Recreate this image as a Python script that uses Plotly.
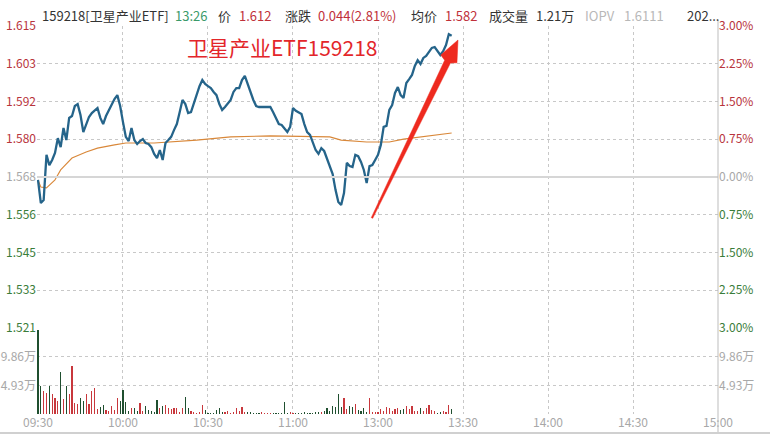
import plotly.graph_objects as go

# ---------------- data ----------------
prev_close = 1.568

def minute_range(start, end):
    out = []
    h, m = start
    while (h, m) <= end:
        out.append(f"{h:02d}:{m:02d}")
        m += 1
        if m == 60:
            h += 1
            m = 0
    return out

all_times = minute_range((9, 30), (11, 30)) + minute_range((13, 1), (15, 0))

price = [
    1.5671, 1.5599, 1.5608, 1.5749, 1.5717, 1.5733, 1.5755, 1.5801, 1.5773, 1.5833,
    1.5795, 1.5864, 1.5870, 1.5901, 1.5907, 1.5873, 1.5820, 1.5845, 1.5867, 1.5879,
    1.5886, 1.5895, 1.5864, 1.5845, 1.5870, 1.5889, 1.5907, 1.5923, 1.5935, 1.5901,
    1.5851, 1.5805, 1.5792, 1.5833, 1.5795, 1.5783, 1.5792, 1.5798, 1.5786, 1.5783,
    1.5773, 1.5752, 1.5739, 1.5764, 1.5733, 1.5786, 1.5795, 1.5805, 1.5826, 1.5845,
    1.5882, 1.5920, 1.5907, 1.5879, 1.5882, 1.5911, 1.5942, 1.5963, 1.5982, 1.5970,
    1.5963, 1.5957, 1.5945, 1.5935, 1.5907, 1.5889, 1.5898, 1.5911, 1.5920, 1.5945,
    1.5957, 1.5957, 1.5982, 1.5995, 1.5970, 1.5939, 1.5920, 1.5901, 1.5898, 1.5898,
    1.5898, 1.5898, 1.5898, 1.5882, 1.5861, 1.5845, 1.5842, 1.5830, 1.5820, 1.5836,
    1.5895, 1.5886, 1.5882, 1.5876, 1.5845, 1.5820, 1.5811, 1.5789, 1.5764, 1.5752,
    1.5770, 1.5761, 1.5739, 1.5717, 1.5689, 1.5640, 1.5602, 1.5593, 1.5630, 1.5724,
    1.5714, 1.5711, 1.5749, 1.5745, 1.5727, 1.5702, 1.5661, 1.5714, 1.5717, 1.5733,
    1.5749, 1.5780, 1.5836, 1.5839, 1.5889, 1.5904, 1.5942, 1.5960, 1.5935, 1.5926,
    1.5973, 1.5985, 1.5998, 1.6026, 1.6044, 1.6032, 1.6051, 1.6057, 1.6069, 1.6082,
    1.6085, 1.6072, 1.6060, 1.6072, 1.6091, 1.6125, 1.6120,
]

# volume per minute, in 万
volume = [
    14.5, 4.8, 3.9, 3.6, 4.9, 3.4, 2.7, 2.2, 7.3, 2.5,
    4.8, 3.4, 8.3, 1.9, 1.7, 2.7, 2.2, 3.4, 1.7, 3.9,
    4.4, 0.8, 1.2, 1.5, 0.7, 0.5, 1.4, 0.7, 2.7, 2.2,
    4.1, 2.0, 0.5, 1.0, 1.0, 0.6, 1.9, 0.5, 1.4, 0.7,
    0.5, 0.4, 2.4, 1.0, 1.4, 1.5, 1.0, 0.8, 1.0, 1.0,
    0.3, 1.0, 2.9, 1.0, 0.5, 0.3, 0.2, 0.3, 1.5, 0.7,
    0.2, 0.2, 0.2, 0.7, 1.0, 0.3, 0.3, 0.5, 0.2, 0.3,
    1.0, 0.5, 1.2, 0.4, 0.4, 0.3, 0.2, 0.2, 0.2, 0.3,
    0.2, 0.2, 0.2, 0.2, 0.2, 0.2, 0.2, 2.0, 0.2, 0.3,
    0.2, 0.2, 0.2, 0.2, 0.3, 0.2, 0.2, 0.2, 0.4, 0.3,
    0.4, 0.5, 1.0, 0.5, 1.4, 1.2, 3.4, 1.2, 2.7, 0.9,
    1.4, 1.2, 1.7, 0.7, 0.5, 1.0, 0.3, 2.7, 0.3, 0.4,
    0.3, 0.8, 0.5, 1.2, 1.1, 0.5, 0.8, 1.1, 0.7, 0.8,
    1.4, 0.8, 1.4, 0.6, 0.5, 1.1, 0.5, 1.1, 1.5, 0.7,
    0.5, 0.2, 0.3, 0.6, 0.4, 1.6, 0.8,
]

avg_times = ["09:30", "09:31", "09:33", "09:36", "09:38", "09:42", "09:47", "09:51",
             "09:57", "10:01", "10:11", "10:26", "10:38", "10:52", "11:13", "11:17",
             "11:26", "13:04", "13:09", "13:26"]
avg_price = [1.5671, 1.5649, 1.5646, 1.5671, 1.5702, 1.5739, 1.5758, 1.5770,
             1.5780, 1.5786, 1.5786, 1.5795, 1.5805, 1.5808, 1.5805, 1.5795,
             1.5789, 1.5789, 1.5798, 1.5817]

pct_steps = [-3.0, -2.25, -1.5, -0.75, 0.0, 0.75, 1.5, 2.25, 3.0]
price_tick_labels = ["1.521", "1.533", "1.545", "1.556", "1.568", "1.580", "1.592", "1.603", "1.615"]
pct_tick_labels = ["3.00%", "2.25%", "1.50%", "0.75%", "0.00%", "0.75%", "1.50%", "2.25%", "3.00%"]
vol_tick_vals = [4.93, 9.86]
vol_tick_labels = ["4.93万", "9.86万"]
vol_max = 14.79

x_tick_times = ["09:30", "10:00", "10:30", "11:00", "11:30", "13:30", "14:00", "14:30", "15:00"]
x_tick_labels = ["09:30", "10:00", "10:30", "11:00", "13:00", "13:30", "14:00", "14:30", "15:00"]

header = [
    ("159218[卫星产业ETF]", "#333333", 40),
    ("13:26", "#3a9a6a", 173),
    ("价", "#333333", 216),
    ("1.612", "#c0303a", 237),
    ("涨跌", "#333333", 283),
    ("0.044(2.81%)", "#c0303a", 316),
    ("均价", "#333333", 409),
    ("1.582", "#c0303a", 443),
    ("成交量", "#333333", 487),
    ("1.21万", "#333333", 534),
    ("IOPV", "#b8b8b8", 583),
    ("1.6111", "#b8b8b8", 622),
    ("202...", "#333333", 685),
]
title_text = "卫星产业ETF159218"

# ---------------- styling ----------------
RED = "#b8343c"
GREEN = "#3a7d3a"
GRAYTXT = "#a8a8a8"
FONT = "Noto Sans CJK SC, Noto Sans, sans-serif"

W, H = 770, 440
L, R, T, B = 37, 52, 26, 26
PW, PH = W - L - R, H - T - B
vol_frac = 86 / PH

def px2x(px):
    return (px - L) / PW

def py2y(py):
    return (H - B - py) / PH

times = all_times[:len(price)]
tick_vals = [prev_close * (1 + s / 100) for s in pct_steps]

def col_for(label_idx):
    s = pct_steps[label_idx]
    return RED if s > 0 else (GREEN if s < 0 else GRAYTXT)

left_text = [f'<span style="color:{col_for(i)}">{t}</span>' for i, t in enumerate(price_tick_labels)]
right_text = [f'<span style="color:{col_for(i)}">{t}</span>' for i, t in enumerate(pct_tick_labels)]

bar_colors = []
for i, v in enumerate(price):
    ref = prev_close if i == 0 else price[i - 1]
    bar_colors.append("#c8373c" if v >= ref else "#1f4f2f")

fig = go.Figure()

fig.add_trace(go.Bar(x=times, y=volume, marker=dict(color=bar_colors, line=dict(width=0)),
                     width=0.38, xaxis="x", yaxis="y3", hoverinfo="skip"))
fig.add_trace(go.Scatter(x=times, y=volume, mode="lines", line=dict(width=0), opacity=0,
                         xaxis="x", yaxis="y4", hoverinfo="skip"))
fig.add_trace(go.Scatter(x=avg_times, y=avg_price, mode="lines",
                         line=dict(color="#d9883a", width=1.1), xaxis="x", yaxis="y"))
fig.add_trace(go.Scatter(x=times, y=price, mode="lines",
                         line=dict(color="#25648a", width=2.3), xaxis="x", yaxis="y"))
fig.add_trace(go.Scatter(x=times, y=price, mode="lines", line=dict(width=0), opacity=0,
                         xaxis="x", yaxis="y2", hoverinfo="skip"))

pad = 1e-6
prange = [tick_vals[0] - pad, tick_vals[-1] + pad]
grid = dict(showgrid=True, gridcolor="#c8c8c8", griddash="dot", gridwidth=1, zeroline=False)

fig.update_layout(
    template="none",
    width=W, height=H, margin=dict(l=L, r=R, t=T, b=B, autoexpand=False),
    paper_bgcolor="white", plot_bgcolor="white", showlegend=False,
    font=dict(family=FONT, size=12, color=GRAYTXT),
    xaxis=dict(type="category", categoryarray=all_times, categoryorder="array",
               range=[-0.35, len(all_times) - 1], tickmode="array", automargin=False,
               tickvals=x_tick_times, ticktext=x_tick_labels, anchor="y3",
               showline=False, ticks="", tickfont=dict(size=12, color=GRAYTXT),
               **grid),
    yaxis=dict(domain=[vol_frac, 1], range=prange, tickmode="array", tickvals=tick_vals,
               ticktext=left_text, side="left", ticks="", showline=False, automargin=False,
               tickfont=dict(size=12), **grid),
    yaxis2=dict(domain=[vol_frac, 1], range=prange, tickmode="array", tickvals=tick_vals,
                ticktext=right_text, side="right", overlaying="y", anchor="x", ticks="",
                automargin=False,
                showgrid=False, zeroline=False, showline=False, tickfont=dict(size=12)),
    yaxis3=dict(domain=[0, vol_frac], range=[0, vol_max], tickmode="array", automargin=False,
                tickvals=vol_tick_vals + [vol_max], ticktext=vol_tick_labels + [""],
                side="left", ticks="", showline=False, tickfont=dict(size=12, color=GRAYTXT), **grid),
    yaxis4=dict(domain=[0, vol_frac], range=[0, vol_max], tickmode="array", automargin=False,
                tickvals=vol_tick_vals, ticktext=vol_tick_labels, side="right",
                overlaying="y3", anchor="x", ticks="", showgrid=False, zeroline=False,
                showline=False, tickfont=dict(size=12, color=GRAYTXT)),
    bargap=0,
)

shapes = [
    # previous close line
    dict(type="line", xref="paper", yref="y", x0=0, x1=1, y0=prev_close, y1=prev_close,
         line=dict(color="#d6d6d6", width=2)),
    # right border
    dict(type="line", xref="paper", yref="paper", x0=1, x1=1, y0=py2y(432), y1=py2y(20),
         line=dict(color="#bdbdbd", width=1)),
    # bottom border
    dict(type="line", xref="paper", yref="paper", x0=px2x(0), x1=px2x(W), y0=py2y(433), y1=py2y(433),
         line=dict(color="#d0d0d0", width=2)),
]

# red tapered arrow (decoration)
tail = (372, 218)
tip = (458, 40)
dx, dy = tip[0] - tail[0], tip[1] - tail[1]
ln = (dx * dx + dy * dy) ** 0.5
ux, uy = dx / ln, dy / ln
nx, ny = -uy, ux
hb = (tip[0] - 24 * ux, tip[1] - 24 * uy)
pts = [
    (tail[0] - 0.8 * nx, tail[1] - 0.8 * ny),
    (hb[0] - 3.2 * nx, hb[1] - 3.2 * ny),
    (hb[0] - 9 * nx + 3 * ux, hb[1] - 9 * ny + 3 * uy),
    tip,
    (hb[0] + 9 * nx + 3 * ux, hb[1] + 9 * ny + 3 * uy),
    (hb[0] + 3.2 * nx, hb[1] + 3.2 * ny),
    (tail[0] + 0.8 * nx, tail[1] + 0.8 * ny),
]
path = "M " + " L ".join(f"{px2x(a):.5f},{py2y(b):.5f}" for a, b in pts) + " Z"
shapes.append(dict(type="path", xref="paper", yref="paper", path=path,
                   fillcolor="#ee2a1f", line=dict(color="#ee2a1f", width=0.5)))
fig.update_layout(shapes=shapes)

annotations = []
for text, color, xpx in header:
    annotations.append(dict(text=text, x=px2x(xpx), y=py2y(15), xref="paper", yref="paper",
                            xanchor="left", yanchor="middle", showarrow=False,
                            font=dict(family=FONT, size=13, color=color)))
annotations.append(dict(text=title_text, x=px2x(185), y=py2y(47), xref="paper", yref="paper",
                        xanchor="left", yanchor="middle", showarrow=False,
                        font=dict(family=FONT, size=21, color="#e3262a")))
fig.update_layout(annotations=annotations)

fig.write_html("out.html", config={"displayModeBar": False, "staticPlot": True},
               post_script="document.body.style.margin='0px';document.body.style.padding='0px';")
